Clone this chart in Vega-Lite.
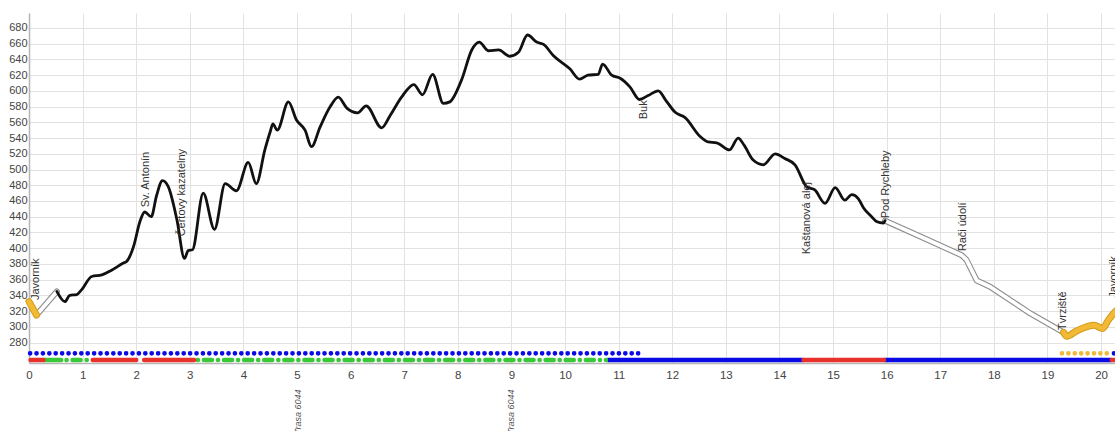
{
  "$schema": "https://vega.github.io/schema/vega-lite/v6.json",
  "autosize": "none",
  "width": 1086,
  "height": 350,
  "padding": {"left": 29, "top": 13, "right": 0, "bottom": 68},
  "background": "white",
  "config": {
    "view": {"stroke": null},
    "axis": {
      "gridColor": "#e2e2e2",
      "gridWidth": 1,
      "domainColor": "#b5b5b5",
      "domainWidth": 1.5,
      "labelColor": "#444444",
      "labelFont": "Liberation Sans",
      "labelFontSize": 11,
      "labelOverlap": false,
      "ticks": false
    }
  },
  "datasets": {
    "profile": [
      {"seg": "yellow1", "km": 0, "elev": 332},
      {"seg": "yellow1", "km": 0.14, "elev": 315},
      {"seg": "white1", "km": 0.14, "elev": 315},
      {"seg": "white1", "km": 0.52, "elev": 345},
      {"seg": "black", "km": 0.52, "elev": 345},
      {"seg": "black", "km": 0.67, "elev": 332},
      {"seg": "black", "km": 0.76, "elev": 340},
      {"seg": "black", "km": 0.89, "elev": 341},
      {"seg": "black", "km": 0.98, "elev": 347},
      {"seg": "black", "km": 1.17, "elev": 364},
      {"seg": "black", "km": 1.36, "elev": 366},
      {"seg": "black", "km": 1.54, "elev": 372},
      {"seg": "black", "km": 1.76, "elev": 381},
      {"seg": "black", "km": 1.82, "elev": 383},
      {"seg": "black", "km": 1.95, "elev": 402},
      {"seg": "black", "km": 2.07, "elev": 434},
      {"seg": "black", "km": 2.16, "elev": 446},
      {"seg": "black", "km": 2.28, "elev": 440},
      {"seg": "black", "km": 2.38, "elev": 467},
      {"seg": "black", "km": 2.49, "elev": 486},
      {"seg": "black", "km": 2.6, "elev": 478},
      {"seg": "black", "km": 2.76, "elev": 436},
      {"seg": "black", "km": 2.9, "elev": 387},
      {"seg": "black", "km": 2.97, "elev": 397},
      {"seg": "black", "km": 3.05, "elev": 398},
      {"seg": "black", "km": 3.25, "elev": 470},
      {"seg": "black", "km": 3.46, "elev": 424},
      {"seg": "black", "km": 3.66, "elev": 482},
      {"seg": "black", "km": 3.87, "elev": 473},
      {"seg": "black", "km": 4.09, "elev": 509},
      {"seg": "black", "km": 4.24, "elev": 482},
      {"seg": "black", "km": 4.4, "elev": 525},
      {"seg": "black", "km": 4.5, "elev": 548},
      {"seg": "black", "km": 4.55, "elev": 558},
      {"seg": "black", "km": 4.63, "elev": 550},
      {"seg": "black", "km": 4.84, "elev": 586},
      {"seg": "black", "km": 4.99, "elev": 563},
      {"seg": "black", "km": 5.15, "elev": 550},
      {"seg": "black", "km": 5.27, "elev": 529},
      {"seg": "black", "km": 5.43, "elev": 554},
      {"seg": "black", "km": 5.62, "elev": 580},
      {"seg": "black", "km": 5.77, "elev": 592},
      {"seg": "black", "km": 5.93, "elev": 578},
      {"seg": "black", "km": 6.13, "elev": 572},
      {"seg": "black", "km": 6.29, "elev": 581},
      {"seg": "black", "km": 6.58, "elev": 553},
      {"seg": "black", "km": 6.74, "elev": 569},
      {"seg": "black", "km": 6.95, "elev": 592},
      {"seg": "black", "km": 7.18, "elev": 608},
      {"seg": "black", "km": 7.34, "elev": 595},
      {"seg": "black", "km": 7.53, "elev": 621},
      {"seg": "black", "km": 7.73, "elev": 584},
      {"seg": "black", "km": 7.85, "elev": 586},
      {"seg": "black", "km": 8.07, "elev": 614},
      {"seg": "black", "km": 8.26, "elev": 652},
      {"seg": "black", "km": 8.4, "elev": 662},
      {"seg": "black", "km": 8.57, "elev": 651},
      {"seg": "black", "km": 8.76, "elev": 652},
      {"seg": "black", "km": 8.97, "elev": 644},
      {"seg": "black", "km": 9.13, "elev": 649},
      {"seg": "black", "km": 9.3, "elev": 671},
      {"seg": "black", "km": 9.47, "elev": 662},
      {"seg": "black", "km": 9.6, "elev": 659},
      {"seg": "black", "km": 9.78, "elev": 645},
      {"seg": "black", "km": 10.09, "elev": 628},
      {"seg": "black", "km": 10.27, "elev": 615},
      {"seg": "black", "km": 10.43, "elev": 620},
      {"seg": "black", "km": 10.62, "elev": 621},
      {"seg": "black", "km": 10.7, "elev": 634},
      {"seg": "black", "km": 10.87, "elev": 620},
      {"seg": "black", "km": 11.03, "elev": 616},
      {"seg": "black", "km": 11.21, "elev": 605},
      {"seg": "black", "km": 11.39, "elev": 589},
      {"seg": "black", "km": 11.55, "elev": 594},
      {"seg": "black", "km": 11.74, "elev": 600},
      {"seg": "black", "km": 11.88, "elev": 588},
      {"seg": "black", "km": 12.05, "elev": 573},
      {"seg": "black", "km": 12.24, "elev": 566},
      {"seg": "black", "km": 12.52, "elev": 542},
      {"seg": "black", "km": 12.67, "elev": 535},
      {"seg": "black", "km": 12.83, "elev": 534},
      {"seg": "black", "km": 13.07, "elev": 525},
      {"seg": "black", "km": 13.23, "elev": 540},
      {"seg": "black", "km": 13.34, "elev": 531},
      {"seg": "black", "km": 13.51, "elev": 512},
      {"seg": "black", "km": 13.7, "elev": 506},
      {"seg": "black", "km": 13.92, "elev": 520},
      {"seg": "black", "km": 14.1, "elev": 514},
      {"seg": "black", "km": 14.29, "elev": 506},
      {"seg": "black", "km": 14.51, "elev": 478},
      {"seg": "black", "km": 14.66, "elev": 474},
      {"seg": "black", "km": 14.85, "elev": 457},
      {"seg": "black", "km": 15.04, "elev": 477},
      {"seg": "black", "km": 15.22, "elev": 461},
      {"seg": "black", "km": 15.35, "elev": 468},
      {"seg": "black", "km": 15.47, "elev": 463},
      {"seg": "black", "km": 15.57, "elev": 451},
      {"seg": "black", "km": 15.72, "elev": 440},
      {"seg": "black", "km": 15.81, "elev": 434},
      {"seg": "black", "km": 15.94, "elev": 432},
      {"seg": "black", "km": 15.97, "elev": 435},
      {"seg": "white2", "km": 15.97, "elev": 435},
      {"seg": "white2", "km": 16.69, "elev": 413},
      {"seg": "white2", "km": 17.4, "elev": 391},
      {"seg": "white2", "km": 17.49, "elev": 385},
      {"seg": "white2", "km": 17.68, "elev": 359},
      {"seg": "white2", "km": 17.93, "elev": 351},
      {"seg": "white2", "km": 18.68, "elev": 317},
      {"seg": "white2", "km": 19.3, "elev": 293},
      {"seg": "yellow2", "km": 19.3, "elev": 293},
      {"seg": "yellow2", "km": 19.36, "elev": 288},
      {"seg": "yellow2", "km": 19.55, "elev": 295},
      {"seg": "yellow2", "km": 19.87, "elev": 302},
      {"seg": "yellow2", "km": 20.03, "elev": 298},
      {"seg": "yellow2", "km": 20.14, "elev": 309},
      {"seg": "yellow2", "km": 20.26, "elev": 319},
      {"seg": "yellow2", "km": 20.35, "elev": 325}
    ],
    "strips": [
      {"row": "upper", "kind": "blue-dots", "km": 0.02, "km2": 11.45},
      {"row": "upper", "kind": "yellow-dots", "km": 19.27, "km2": 20.17},
      {"row": "upper", "kind": "blue-dots", "km": 20.24, "km2": 20.4},
      {"row": "lower", "kind": "red", "km": 0.03, "km2": 0.27},
      {"row": "lower", "kind": "green", "km": 0.27, "km2": 0.6},
      {"row": "lower", "kind": "green-dashdot", "km": 0.7, "km2": 1.12},
      {"row": "lower", "kind": "red", "km": 1.19, "km2": 2.0},
      {"row": "lower", "kind": "red", "km": 2.15, "km2": 3.08},
      {"row": "lower", "kind": "green-dashdot", "km": 3.15, "km2": 10.8},
      {"row": "lower", "kind": "blue", "km": 10.8, "km2": 14.45},
      {"row": "lower", "kind": "red", "km": 14.45, "km2": 15.95},
      {"row": "lower", "kind": "blue", "km": 15.95, "km2": 20.2},
      {"row": "lower", "kind": "red", "km": 20.2, "km2": 20.4}
    ],
    "labels": [
      {"name": "Javorník", "km": 0.13, "elev": 334, "side": "above"},
      {"name": "Sv. Antonín", "km": 2.18, "elev": 452, "side": "above"},
      {"name": "Čertovy kazatelny", "km": 2.86, "elev": 415, "side": "above"},
      {"name": "Buk", "km": 11.47, "elev": 588, "side": "below"},
      {"name": "Kaštanová alej", "km": 14.51, "elev": 484, "side": "below"},
      {"name": "Pod Rychleby", "km": 15.99, "elev": 438, "side": "above"},
      {"name": "Rači údolí", "km": 17.43, "elev": 396, "side": "above"},
      {"name": "Tvrziště", "km": 19.29, "elev": 296, "side": "above"},
      {"name": "Javorník", "km": 20.24, "elev": 337, "side": "above"}
    ],
    "roads": [
      {"name": "Trasa 6044", "km": 5.02},
      {"name": "Trasa 6044", "km": 9.0}
    ]
  },
  "layer": [
    {
      "data": {"name": "strips"},
      "transform": [{"filter": "datum.kind === 'blue-dots'"}],
      "mark": {"type": "rule", "color": "#0a0ae6", "strokeWidth": 4.6, "strokeCap": "round", "strokeDash": [0.1, 6.3]},
      "encoding": {
        "x": {"field": "km", "type": "quantitative", "title": null, "scale": {"domain": [0, 20.26], "nice": false, "zero": false},
              "axis": {"values": [0,1,2,3,4,5,6,7,8,9,10,11,12,13,14,15,16,17,18,19,20], "tickCount": 40, "format": "d", "labelPadding": 6, "labelFlush": false, "grid": true, "labelFontSize": 11.5}},
        "x2": {"field": "km2"},
        "y": {"datum": 266.3, "type": "quantitative", "title": null, "scale": {"domain": [254, 699], "nice": false, "zero": false},
              "axis": {"values": [280,300,320,340,360,380,400,420,440,460,480,500,520,540,560,580,600,620,640,660,680], "tickCount": 40, "format": "d", "labelPadding": 2, "grid": true, "labelOverlap": false}}
      }
    },
    {
      "data": {"name": "strips"},
      "transform": [{"filter": "datum.kind === 'yellow-dots'"}],
      "mark": {"type": "rule", "color": "#f0b93a", "strokeWidth": 4.6, "strokeCap": "round", "strokeDash": [0.1, 6.3]},
      "encoding": {
        "x": {"field": "km", "type": "quantitative", "title": null},
        "x2": {"field": "km2"},
        "y": {"datum": 266.3, "type": "quantitative", "title": null}
      }
    },
    {
      "data": {"name": "strips"},
      "transform": [{"filter": "datum.kind === 'green-dashdot'"}],
      "mark": {"type": "rule", "color": "#38c838", "strokeWidth": 4.6, "strokeCap": "round", "strokeDash": [0.1, 6, 8, 6]},
      "encoding": {
        "x": {"field": "km", "type": "quantitative", "title": null},
        "x2": {"field": "km2"},
        "y": {"datum": 257.8, "type": "quantitative", "title": null}
      }
    },
    {
      "data": {"name": "strips"},
      "transform": [{"filter": "datum.kind === 'green'"}],
      "mark": {"type": "rule", "color": "#38c838", "strokeWidth": 4.6, "strokeCap": "round"},
      "encoding": {
        "x": {"field": "km", "type": "quantitative", "title": null},
        "x2": {"field": "km2"},
        "y": {"datum": 257.8, "type": "quantitative", "title": null}
      }
    },
    {
      "data": {"name": "strips"},
      "transform": [{"filter": "datum.kind === 'blue'"}],
      "mark": {"type": "rule", "color": "#0a0ae6", "strokeWidth": 4.6, "strokeCap": "butt"},
      "encoding": {
        "x": {"field": "km", "type": "quantitative", "title": null},
        "x2": {"field": "km2"},
        "y": {"datum": 257.8, "type": "quantitative", "title": null}
      }
    },
    {
      "data": {"name": "strips"},
      "transform": [{"filter": "datum.kind === 'red'"}],
      "mark": {"type": "rule", "color": "#e8312b", "strokeWidth": 4.6, "strokeCap": "round"},
      "encoding": {
        "x": {"field": "km", "type": "quantitative", "title": null},
        "x2": {"field": "km2"},
        "y": {"datum": 257.8, "type": "quantitative", "title": null}
      }
    },
    {
      "data": {"name": "profile"},
      "transform": [{"filter": "datum.seg === 'white1' || datum.seg === 'white2'"}],
      "mark": {"type": "line", "color": "#8c8c8c", "strokeWidth": 6, "strokeJoin": "round", "strokeCap": "round"},
      "encoding": {
        "x": {"field": "km", "type": "quantitative", "title": null},
        "y": {"field": "elev", "type": "quantitative", "title": null},
        "detail": {"field": "seg"}
      }
    },
    {
      "data": {"name": "profile"},
      "transform": [{"filter": "datum.seg === 'white1' || datum.seg === 'white2'"}],
      "mark": {"type": "line", "color": "#ffffff", "strokeWidth": 3.8, "strokeJoin": "round", "strokeCap": "round"},
      "encoding": {
        "x": {"field": "km", "type": "quantitative", "title": null},
        "y": {"field": "elev", "type": "quantitative", "title": null},
        "detail": {"field": "seg"}
      }
    },
    {
      "data": {"name": "profile"},
      "transform": [{"filter": "datum.seg === 'yellow1' || datum.seg === 'yellow2'"}],
      "mark": {"type": "line", "color": "#d49b1c", "strokeWidth": 7, "strokeJoin": "round", "strokeCap": "round", "interpolate": "monotone"},
      "encoding": {
        "x": {"field": "km", "type": "quantitative", "title": null},
        "y": {"field": "elev", "type": "quantitative", "title": null},
        "detail": {"field": "seg"}
      }
    },
    {
      "data": {"name": "profile"},
      "transform": [{"filter": "datum.seg === 'yellow1' || datum.seg === 'yellow2'"}],
      "mark": {"type": "line", "color": "#f1b934", "strokeWidth": 5, "strokeJoin": "round", "strokeCap": "round", "interpolate": "monotone"},
      "encoding": {
        "x": {"field": "km", "type": "quantitative", "title": null},
        "y": {"field": "elev", "type": "quantitative", "title": null},
        "detail": {"field": "seg"}
      }
    },
    {
      "data": {"name": "profile"},
      "transform": [{"filter": "datum.seg === 'black'"}],
      "mark": {"type": "line", "color": "#111111", "strokeWidth": 2.8, "strokeJoin": "round", "strokeCap": "round", "interpolate": "monotone"},
      "encoding": {
        "x": {"field": "km", "type": "quantitative", "title": null},
        "y": {"field": "elev", "type": "quantitative", "title": null}
      }
    },
    {
      "data": {"name": "labels"},
      "transform": [{"filter": "datum.side === 'above'"}],
      "mark": {"type": "text", "angle": 270, "align": "left", "baseline": "middle", "font": "Liberation Sans", "fontSize": 11, "color": "#333333"},
      "encoding": {
        "x": {"field": "km", "type": "quantitative", "title": null},
        "y": {"field": "elev", "type": "quantitative", "title": null},
        "text": {"field": "name"}
      }
    },
    {
      "data": {"name": "labels"},
      "transform": [{"filter": "datum.side === 'below'"}],
      "mark": {"type": "text", "angle": 270, "align": "right", "baseline": "middle", "font": "Liberation Sans", "fontSize": 11, "color": "#333333"},
      "encoding": {
        "x": {"field": "km", "type": "quantitative", "title": null},
        "y": {"field": "elev", "type": "quantitative", "title": null},
        "text": {"field": "name"}
      }
    },
    {
      "data": {"name": "roads"},
      "mark": {"type": "text", "angle": 270, "align": "right", "baseline": "middle", "font": "Liberation Sans", "fontSize": 9, "fontStyle": "italic", "color": "#555555"},
      "encoding": {
        "x": {"field": "km", "type": "quantitative", "title": null},
        "y": {"datum": 220.3, "type": "quantitative", "title": null},
        "text": {"field": "name"}
      }
    }
  ]
}
